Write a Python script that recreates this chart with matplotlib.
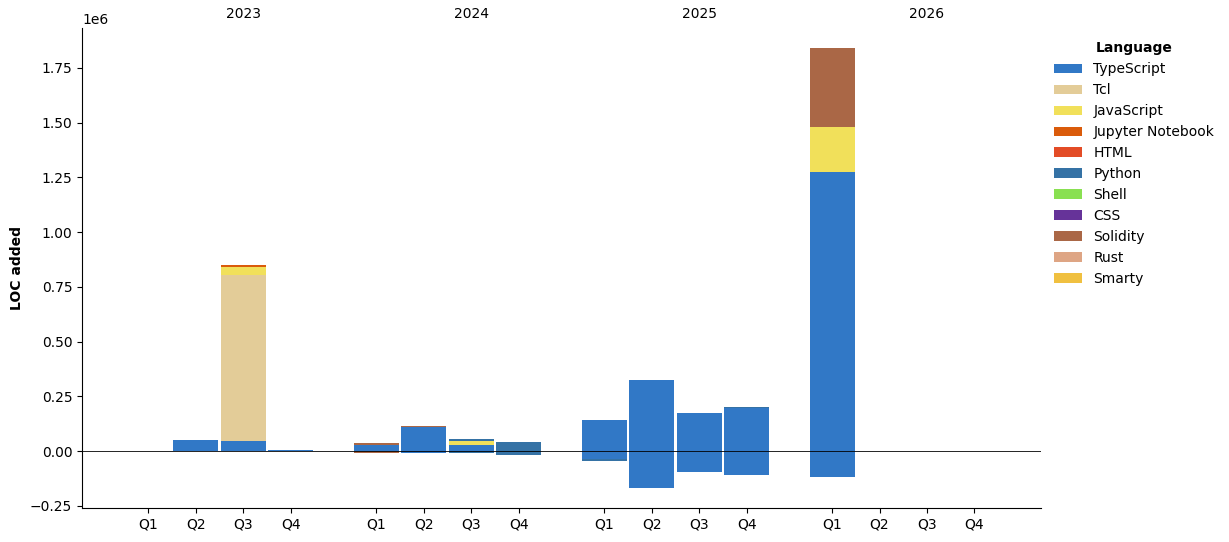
import numpy as np
import matplotlib
matplotlib.use("Agg")
import matplotlib.pyplot as plt

years = [2023, 2024, 2025, 2026]
quarters = ["Q1", "Q2", "Q3", "Q4"]

languages = ["TypeScript", "Tcl", "JavaScript", "Jupyter Notebook", "HTML", "Python",
             "Shell", "CSS", "Solidity", "Rust", "Smarty"]
colors = ["#3178c6", "#e3cc98", "#f1e05a", "#da5b0b", "#e34c26", "#3572a5",
          "#89e051", "#663399", "#aa6746", "#dea584", "#f0c040"]

# LOC added per quarter (2023 Q1 .. 2026 Q4)
ts_add = [0, 50000, 46000, 5000, 26000, 110000, 27000, 0, 140000, 324000, 174000, 198000, 1275000, 0, 0, 0]
tcl_add = [0, 0, 758000, 0, 0, 0, 0, 0, 0, 0, 0, 0, 0, 0, 0, 0]
js_add = [0, 0, 36000, 0, 0, 0, 18000, 0, 0, 0, 0, 0, 205000, 0, 0, 0]
jup_add = [0, 0, 10000, 0, 0, 0, 0, 0, 0, 0, 0, 0, 0, 0, 0, 0]
py_add = [0, 0, 0, 0, 0, 0, 10000, 41000, 2000, 0, 0, 3000, 0, 0, 0, 0]
sol_add = [0, 0, 0, 0, 10000, 5000, 0, 0, 0, 0, 0, 0, 361000, 0, 0, 0]

# LOC removed per quarter
ts_del = [0, 0, 0, 0, 0, -7000, 0, 0, -37000, -168000, -95000, -108000, -118000, 0, 0, 0]
py_del = [0, 0, 0, 0, 0, 0, -8000, -18000, -7000, 0, 0, 0, 0, 0, 0, 0]
sol_del = [0, 0, 0, 0, -8000, -4000, 0, 0, 0, 0, 0, 0, -2000, 0, 0, 0]

zeros = [0] * 16
added = {"TypeScript": ts_add, "Tcl": tcl_add, "JavaScript": js_add, "Jupyter Notebook": jup_add,
         "Python": py_add, "Solidity": sol_add}
removed = {"TypeScript": ts_del, "Python": py_del, "Solidity": sol_del}

fig = plt.figure(figsize=(12.29, 5.42), dpi=100)
ax = fig.add_axes([0.0667, 0.0627, 0.7803, 0.8856])

x = np.array([y * 4.8 + q for y in range(len(years)) for q in range(4)])
pos_bottom = np.zeros(16)
neg_bottom = np.zeros(16)
for lang, col in zip(languages, colors):
    a = np.array(added.get(lang, zeros), dtype=float)
    d = np.array(removed.get(lang, zeros), dtype=float)
    ax.bar(x, a, width=0.95, bottom=pos_bottom, color=col, label=lang)
    ax.bar(x, d, width=0.95, bottom=neg_bottom, color=col)
    pos_bottom += a
    neg_bottom += d

ax.axhline(0, color="black", linewidth=0.6)
ax.set_xticks(x)
ax.set_xticklabels(quarters * len(years))
ax.set_xlim(-1.4, 18.8)
ax.set_ylim(-0.26e6, 1.932e6)
ax.set_ylabel("LOC added", fontweight="bold")
ax.spines["top"].set_visible(False)
ax.spines["right"].set_visible(False)

for i, yr in enumerate(years):
    ax.text(i * 4.8 + 2, 1.015, str(yr), transform=ax.get_xaxis_transform(),
            ha="center", va="bottom", fontsize=10)

leg = ax.legend(title="Language", loc="upper left", bbox_to_anchor=(1.001, 0.998), frameon=False)
leg.get_title().set_fontweight("bold")

fig.savefig("out.png", dpi=100)
